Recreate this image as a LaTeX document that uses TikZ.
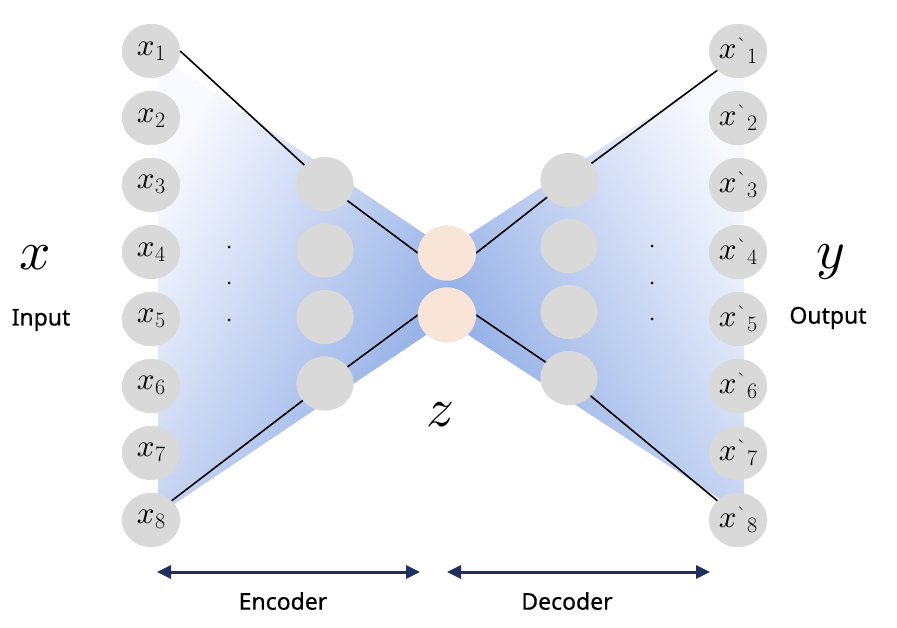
\documentclass[tikz,border=0pt]{standalone}
\usepackage{fontspec}
\usepackage{graphicx}
\setsansfont{Noto Sans}
\newfontfamily\labfont{Noto Sans}[FakeBold=0.6]
\newfontfamily\gravefont{Latin Modern Roman}[Ligatures=TeXOff]
\usetikzlibrary{shapes.geometric,arrows.meta}
\definecolor{cgray}{HTML}{D9D9D9}
\definecolor{cpeach}{HTML}{F8E5D8}
\definecolor{blight}{HTML}{F8F9FE}
\definecolor{bdark}{HTML}{8AA8E4}
\definecolor{navy}{HTML}{1F2F60}
\newcommand\xin[1]{\scalebox{3.1}{$x$}\kern0.5pt\raisebox{-5pt}{\fontsize{22}{22}\selectfont#1}}
\newcommand\xout[1]{\scalebox{3.1}{$x$}\kern0.5pt\raisebox{6pt}{\gravefont\fontsize{21}{21}\selectfont\char"60}\kern0.5pt\raisebox{-5pt}{\fontsize{22}{22}\selectfont#1}}
\tikzset{
  unit/.style={ellipse, fill=cgray, minimum width=58pt, minimum height=54pt, inner sep=0pt},
  hid/.style={ellipse, fill=cgray, minimum width=57pt, minimum height=54pt, inner sep=0pt},
  code/.style={ellipse, fill=cpeach, minimum width=58pt, minimum height=55pt, inner sep=0pt},
  conn/.style={black, line width=1.6pt},
  dotnode/.style={circle, fill=black, inner sep=0pt, minimum size=3pt},
  lab/.style={font=\labfont\fontsize{23}{25}\selectfont, inner sep=0pt},
  big/.style={inner sep=0pt},
  span/.style={navy, line width=3pt, {Triangle[length=14pt,width=13pt]}-{Triangle[length=14pt,width=13pt]}}
}
\begin{document}
\begin{tikzpicture}[x=1pt,y=-1pt]
\useasboundingbox (0,0) rectangle (897,628);
% shaded fans
\shade[top color=blight, bottom color=bdark, shading angle=61]
  (158,55) -- (447,249) -- (447,321) -- (158,515) -- cycle;
\shade[top color=blight, bottom color=bdark, shading angle=-61]
  (744,55) -- (447,249) -- (447,321) -- (744,515) -- cycle;
% nodes
\foreach \i in {1,...,8} {
  \node[unit] (x\i) at (151,{51+67*(\i-1)}) {};
  \node[unit] (y\i) at (738,{51+67*(\i-1)}) {};
}
\node[hid] (e1) at (325,184) {};
\node[hid] (e2) at (325,250.5) {};
\node[hid] (e3) at (325,317) {};
\node[hid] (e4) at (325,383.5) {};
\node[hid] (d1) at (569,180) {};
\node[hid] (d2) at (569,246) {};
\node[hid] (d3) at (569,312) {};
\node[hid] (d4) at (569,378) {};
\node[code] (z1) at (447,253) {};
\node[code] (z2) at (447,315) {};
% connectors
\draw[conn] (x1.east) -- (e1.center);
\draw[conn] (e1.center) -- (z1.west);
\draw[conn] (x8.north east) -- (e4.center);
\draw[conn] (e4.center) -- (z2.west);
\draw[conn] (z1.east) -- (d1.center);
\draw[conn] (d1.center) -- (y1.south west);
\draw[conn] (z2.east) -- (d4.center);
\draw[conn] (d4.center) -- (y8.north west);
% redraw circles over connectors
\foreach \i in {1,...,8} {
  \node[unit] at (x\i) {\xin{\i}};
  \node[unit] at (y\i) {\xout{\i}};
}
\foreach \n in {e1,e2,e3,e4,d1,d2,d3,d4} { \node[hid] at (\n) {}; }
\node[code] at (z1) {};
\node[code] at (z2) {};
% dots
\node[dotnode] (ld1) at (229,247) {};
\node[dotnode] (ld2) at (229,283) {};
\node[dotnode] (ld3) at (229,320) {};
\node[dotnode] (rd1) at (652,246) {};
\node[dotnode] (rd2) at (652,283) {};
\node[dotnode] (rd3) at (652,319) {};
% labels
\node[big] (bx) at (35,258) {\scalebox{5.5}{$x$}};
\node[lab] (inp) at (41,320) {Input};
\node[big] (by) at (831,262) {\scalebox{5.5}{$y$}};
\node[lab] (outp) at (828,318) {Output};
\node[big] (bz) at (440,415) {\scalebox{5.5}{$z$}};
% spans
\coordinate (encL) at (157,572);
\coordinate (encR) at (420,572);
\coordinate (decL) at (447,572);
\coordinate (decR) at (710,572);
\draw[span] (encL) -- (encR);
\draw[span] (decL) -- (decR);
\node[lab] (enc) at (283,601) {Encoder};
\node[lab] (dec) at (567,601) {Decoder};
\end{tikzpicture}
\end{document}
